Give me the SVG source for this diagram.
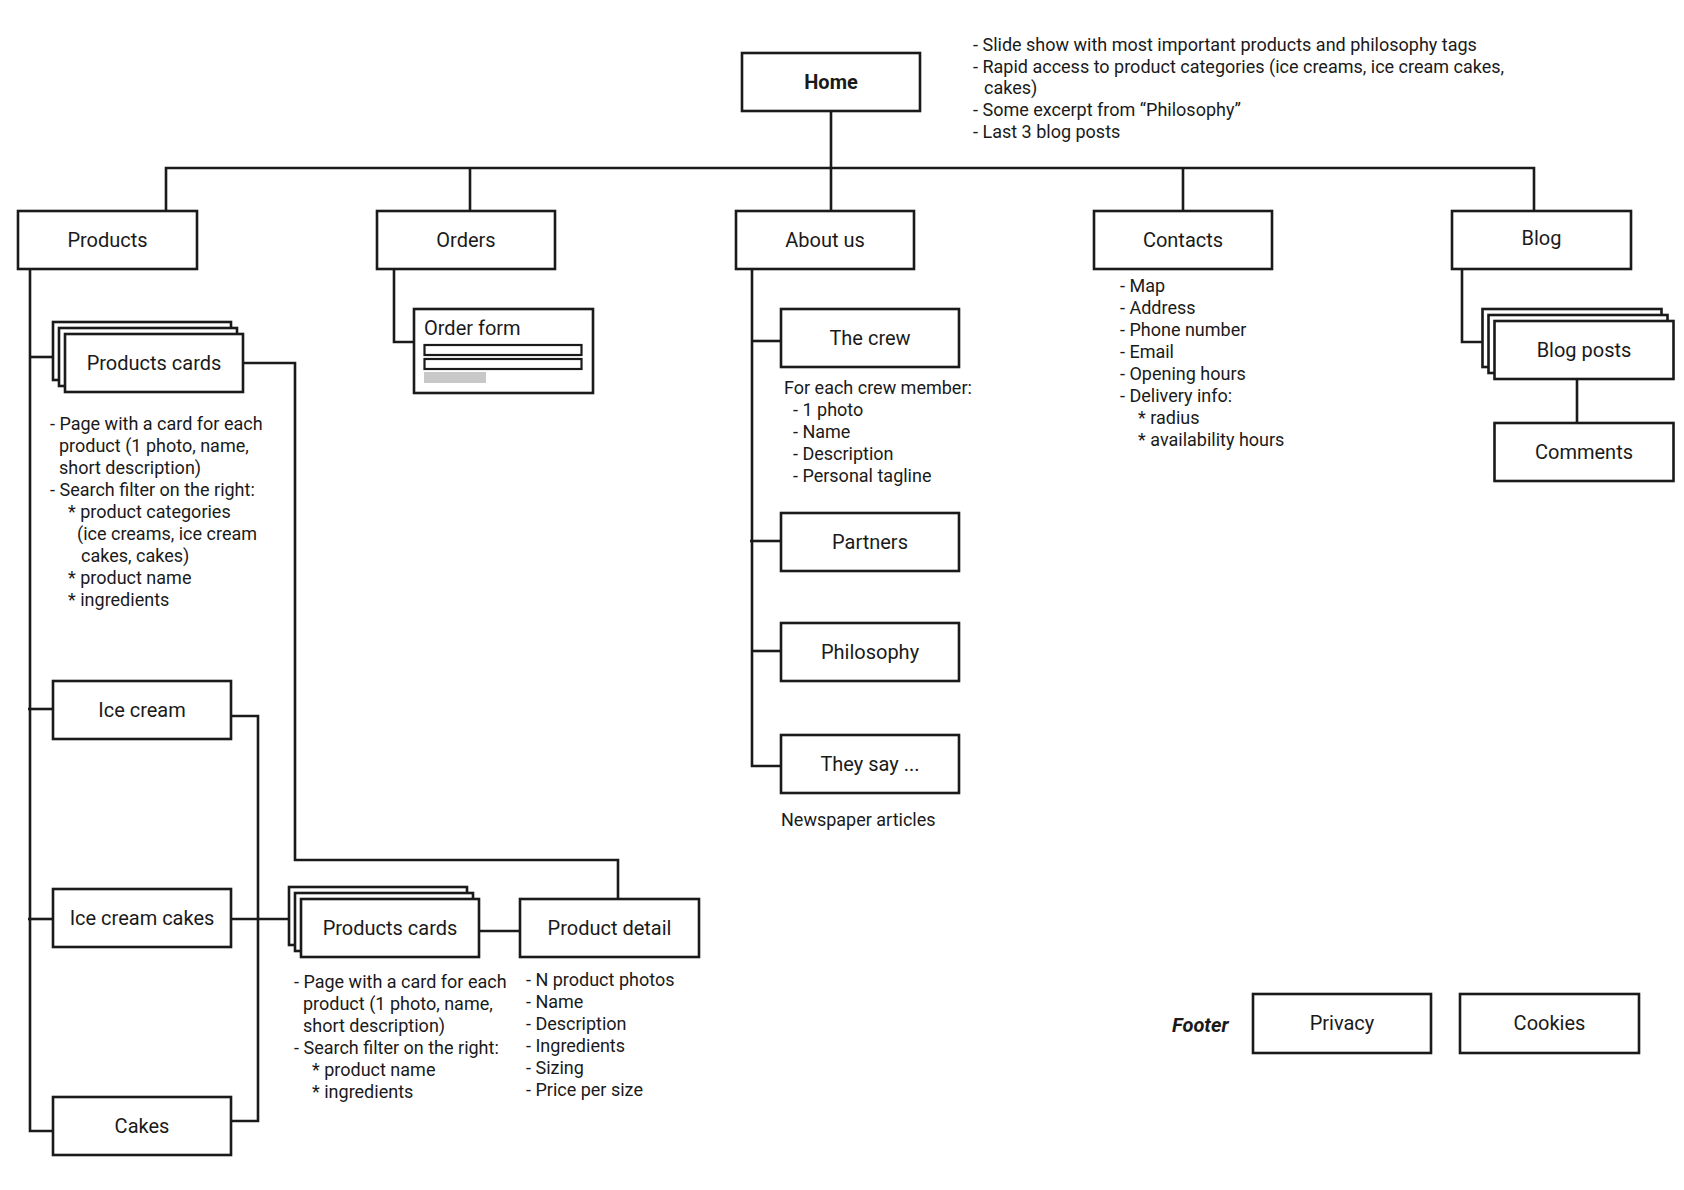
<svg xmlns="http://www.w3.org/2000/svg" width="1684" height="1190" viewBox="0 0 1684 1190">
<style>
rect.box{fill:#fff;stroke:#1a1a1a;stroke-width:2.6}
.con path{fill:none;stroke:#1a1a1a;stroke-width:2.6}
text{font-family:Roboto,"Liberation Sans",sans-serif;fill:#1a1a1a}
.lbl{font-size:20px;text-anchor:middle}
.note{font-size:18px}
</style>
<rect width="1684" height="1190" fill="#fff"/>
<g class="con" id="connectors">
<path d="M166 211V168H1534V211"/>
<path d="M470 168V211"/>
<path d="M831 111V211"/>
<path d="M1183 168V211"/>
<path d="M30 269V1131H53"/>
<path d="M30 357H53"/>
<path d="M28 709H53"/>
<path d="M28 919H53"/>
<path d="M243 363H295V860H618V899"/>
<path d="M231 716H258V1121H231"/>
<path d="M231 919H289"/>
<path d="M479 931H520"/>
<path d="M394 269V342H414"/>
<path d="M752 269V766H781"/>
<path d="M752 341H781"/>
<path d="M750 541H781"/>
<path d="M752 651H781"/>
<path d="M1462 269V342H1483"/>
<path d="M1577 379V423"/>
</g>
<g id="home"><rect class="box" x="742" y="53" width="178" height="58"/><text class="lbl" x="831" y="89" font-weight="bold">Home</text></g>
<g id="home-notes" class="note">
<text x="973" y="51">- Slide show with most important products and philosophy tags</text>
<text x="973" y="73">- Rapid access to product categories (ice creams, ice cream cakes,</text>
<text x="984" y="94">cakes)</text>
<text x="973" y="116">- Some excerpt from “Philosophy”</text>
<text x="973" y="138">- Last 3 blog posts</text>
</g>
<g id="products"><rect class="box" x="18" y="211" width="179" height="58"/><text class="lbl" x="107.5" y="247">Products</text></g>
<g id="orders"><rect class="box" x="377" y="211" width="178" height="58"/><text class="lbl" x="466" y="247">Orders</text></g>
<g id="about"><rect class="box" x="736" y="211" width="178" height="58"/><text class="lbl" x="825" y="247">About us</text></g>
<g id="contacts"><rect class="box" x="1094" y="211" width="178" height="58"/><text class="lbl" x="1183" y="247">Contacts</text></g>
<g id="blog"><rect class="box" x="1452" y="211" width="179" height="58"/><text class="lbl" x="1541.5" y="245">Blog</text></g>
<g id="products-cards-1">
<rect class="box" x="53" y="322" width="178" height="58"/>
<rect class="box" x="59" y="328" width="178" height="58"/>
<rect class="box" x="65" y="334" width="178" height="58"/>
<text class="lbl" x="154" y="370">Products cards</text>
</g>
<g id="products-cards-1-notes" class="note">
<text x="50" y="430">- Page with a card for each</text>
<text x="59" y="452">product (1 photo, name,</text>
<text x="59" y="474">short description)</text>
<text x="50" y="496">- Search filter on the right:</text>
<text x="68" y="518">* product categories</text>
<text x="77" y="540">(ice creams, ice cream</text>
<text x="81" y="562">cakes, cakes)</text>
<text x="68" y="584">* product name</text>
<text x="68" y="606">* ingredients</text>
</g>
<g id="order-form">
<rect class="box" x="414" y="309" width="179" height="84"/>
<text x="424" y="335" font-size="20">Order form</text>
<rect x="424.5" y="345" width="157" height="10" fill="#fff" stroke="#1a1a1a" stroke-width="2.2"/>
<rect x="424.5" y="359" width="157" height="10" fill="#fff" stroke="#1a1a1a" stroke-width="2.2"/>
<rect x="424" y="372" width="62" height="11" fill="#c8c8c8"/>
</g>
<g id="crew"><rect class="box" x="781" y="309" width="178" height="58"/><text class="lbl" x="870" y="345">The crew</text></g>
<g id="crew-notes" class="note">
<text x="784" y="394">For each crew member:</text>
<text x="793" y="416">- 1 photo</text>
<text x="793" y="438">- Name</text>
<text x="793" y="460">- Description</text>
<text x="793" y="482">- Personal tagline</text>
</g>
<g id="partners"><rect class="box" x="781" y="513" width="178" height="58"/><text class="lbl" x="870" y="549">Partners</text></g>
<g id="philosophy"><rect class="box" x="781" y="623" width="178" height="58"/><text class="lbl" x="870" y="659">Philosophy</text></g>
<g id="they-say"><rect class="box" x="781" y="735" width="178" height="58"/><text class="lbl" x="870" y="771">They say ...</text></g>
<text id="they-say-note" class="note" x="781" y="826">Newspaper articles</text>
<g id="contacts-notes" class="note">
<text x="1120" y="292">- Map</text>
<text x="1120" y="314">- Address</text>
<text x="1120" y="336">- Phone number</text>
<text x="1120" y="358">- Email</text>
<text x="1120" y="380">- Opening hours</text>
<text x="1120" y="402">- Delivery info:</text>
<text x="1138" y="424">* radius</text>
<text x="1138" y="446">* availability hours</text>
</g>
<g id="blog-posts">
<rect class="box" x="1482.5" y="309" width="179" height="58"/>
<rect class="box" x="1488.5" y="315" width="179" height="58"/>
<rect class="box" x="1494.5" y="321" width="179" height="58"/>
<text class="lbl" x="1584" y="357">Blog posts</text>
</g>
<g id="comments"><rect class="box" x="1494.5" y="423" width="179" height="58"/><text class="lbl" x="1584" y="459">Comments</text></g>
<g id="ice-cream"><rect class="box" x="53" y="681" width="178" height="58"/><text class="lbl" x="142" y="717">Ice cream</text></g>
<g id="ice-cream-cakes"><rect class="box" x="53" y="889" width="178" height="58"/><text class="lbl" x="142" y="925">Ice cream cakes</text></g>
<g id="cakes"><rect class="box" x="53" y="1097" width="178" height="58"/><text class="lbl" x="142" y="1133">Cakes</text></g>
<g id="products-cards-2">
<rect class="box" x="289" y="887" width="178" height="58"/>
<rect class="box" x="295" y="893" width="178" height="58"/>
<rect class="box" x="301" y="899" width="178" height="58"/>
<text class="lbl" x="390" y="935">Products cards</text>
</g>
<g id="products-cards-2-notes" class="note">
<text x="294" y="988">- Page with a card for each</text>
<text x="303" y="1010">product (1 photo, name,</text>
<text x="303" y="1032">short description)</text>
<text x="294" y="1054">- Search filter on the right:</text>
<text x="312" y="1076">* product name</text>
<text x="312" y="1098">* ingredients</text>
</g>
<g id="product-detail"><rect class="box" x="520" y="899" width="179" height="58"/><text class="lbl" x="609.5" y="935">Product detail</text></g>
<g id="product-detail-notes" class="note">
<text x="526" y="986">- N product photos</text>
<text x="526" y="1008">- Name</text>
<text x="526" y="1030">- Description</text>
<text x="526" y="1052">- Ingredients</text>
<text x="526" y="1074">- Sizing</text>
<text x="526" y="1096">- Price per size</text>
</g>
<text id="footer-label" x="1172" y="1032" font-size="20" font-style="italic" font-weight="bold">Footer</text>
<g id="privacy"><rect class="box" x="1253" y="994" width="178" height="59"/><text class="lbl" x="1342" y="1030">Privacy</text></g>
<g id="cookies"><rect class="box" x="1460" y="994" width="179" height="59"/><text class="lbl" x="1549.5" y="1030">Cookies</text></g>
</svg>
